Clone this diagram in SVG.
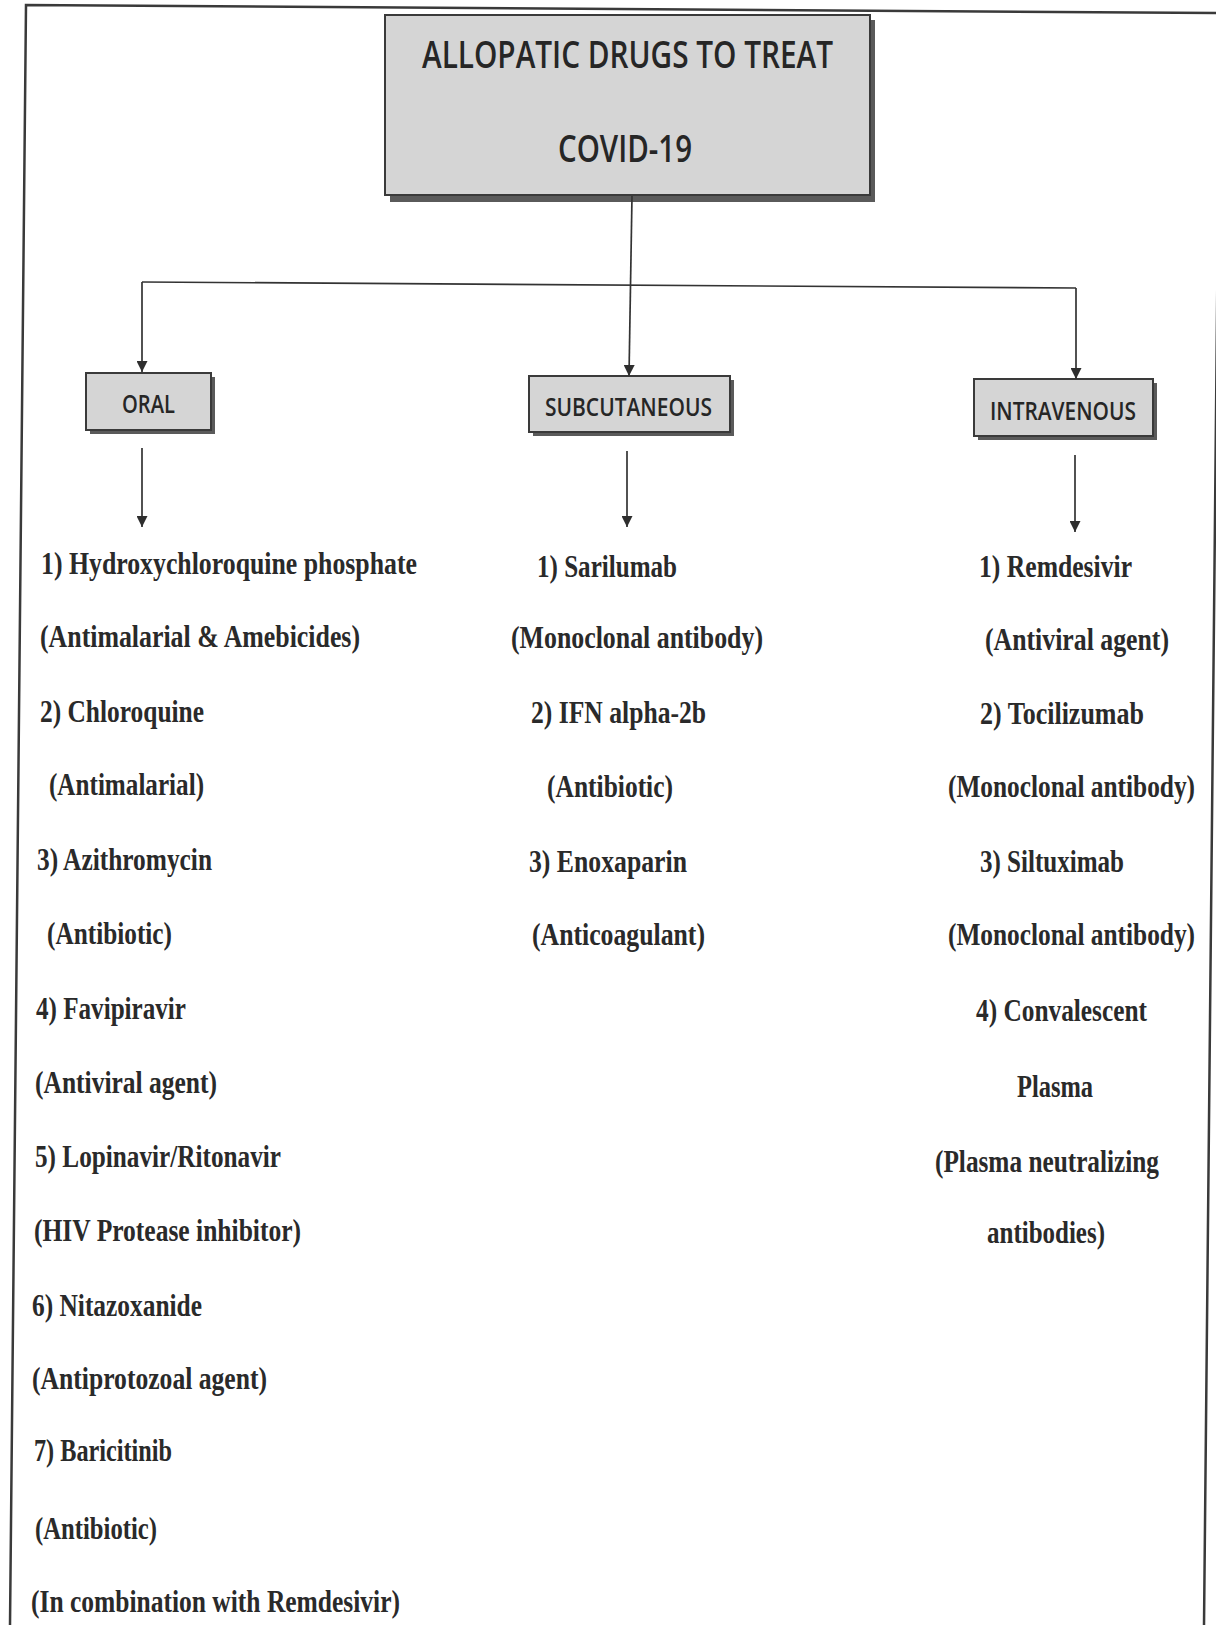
<svg xmlns="http://www.w3.org/2000/svg" width="1216" height="1625" viewBox="0 0 1216 1625">
<defs>
<marker id="ah" viewBox="0 0 10 10" refX="10" refY="5" markerWidth="15" markerHeight="11" markerUnits="userSpaceOnUse" orient="auto">
<path d="M0,0 L10,5 L0,10 z" fill="#2e2e2e"/>
</marker>
<style>
.box{fill:#d5d5d5;stroke:#3a3a3a;stroke-width:2}
.shadow{fill:#5a5a5a}
.hd{font-family:"Open Sans","Liberation Sans",sans-serif;font-weight:600;fill:#262626;text-anchor:start}
.t{font-family:"Liberation Serif","Times New Roman",serif;font-weight:bold;font-size:32px;fill:#2a2a2a}
.ln{stroke:#333;stroke-width:1.7;fill:none}
.frame{stroke:#3a3a3a;stroke-width:2.5;fill:none}
</style>
</defs>
<rect width="1216" height="1625" fill="#ffffff"/>
<path class="frame" d="M1220,13 L26,5 L10,1625 M1220,13 L1204,1625"/>

<g id="header">
<rect class="shadow" x="390" y="20" width="485" height="182"/>
<rect class="box" x="385" y="15" width="485" height="180"/>
<text class="hd" x="422" y="68" font-size="37" textLength="411" lengthAdjust="spacingAndGlyphs">ALLOPATIC DRUGS TO TREAT</text>
<text class="hd" x="558" y="162" font-size="37" textLength="134" lengthAdjust="spacingAndGlyphs">COVID-19</text>
</g>

<g id="oral">
<rect class="shadow" x="90" y="377" width="125" height="57"/>
<rect class="box" x="86" y="373" width="125" height="57"/>
<text class="hd" x="122" y="413" font-size="25" textLength="53" lengthAdjust="spacingAndGlyphs">ORAL</text>
</g>

<g id="subcutaneous">
<rect class="shadow" x="533" y="380" width="201" height="56"/>
<rect class="box" x="529" y="376" width="201" height="56"/>
<text class="hd" x="545" y="416" font-size="25" textLength="167" lengthAdjust="spacingAndGlyphs">SUBCUTANEOUS</text>
</g>

<g id="intravenous">
<rect class="shadow" x="978" y="383" width="179" height="57"/>
<rect class="box" x="974" y="379" width="179" height="57"/>
<text class="hd" x="990" y="420" font-size="25" textLength="146" lengthAdjust="spacingAndGlyphs">INTRAVENOUS</text>
</g>

<g id="connectors">
<path class="ln" d="M632,196 L629,376" marker-end="url(#ah)"/>
<path class="ln" d="M142,282 L1076,288"/>
<path class="ln" d="M142,282 L142,372" marker-end="url(#ah)"/>
<path class="ln" d="M1076,288 L1076,379" marker-end="url(#ah)"/>
<path class="ln" d="M142,448 L142,527" marker-end="url(#ah)"/>
<path class="ln" d="M627,451 L627,527" marker-end="url(#ah)"/>
<path class="ln" d="M1075,455 L1075,532" marker-end="url(#ah)"/>
</g>

<g id="oral-list">
<text class="t" x="41" y="574" textLength="376" lengthAdjust="spacingAndGlyphs">1) Hydroxychloroquine phosphate</text>
<text class="t" x="40" y="647" textLength="320" lengthAdjust="spacingAndGlyphs">(Antimalarial &amp; Amebicides)</text>
<text class="t" x="40" y="722" textLength="164" lengthAdjust="spacingAndGlyphs">2) Chloroquine</text>
<text class="t" x="49" y="795" textLength="155" lengthAdjust="spacingAndGlyphs">(Antimalarial)</text>
<text class="t" x="37" y="870" textLength="175" lengthAdjust="spacingAndGlyphs">3) Azithromycin</text>
<text class="t" x="47" y="944" textLength="125" lengthAdjust="spacingAndGlyphs">(Antibiotic)</text>
<text class="t" x="36" y="1019" textLength="150" lengthAdjust="spacingAndGlyphs">4) Favipiravir</text>
<text class="t" x="35" y="1093" textLength="182" lengthAdjust="spacingAndGlyphs">(Antiviral agent)</text>
<text class="t" x="35" y="1167" textLength="246" lengthAdjust="spacingAndGlyphs">5) Lopinavir/Ritonavir</text>
<text class="t" x="34" y="1241" textLength="267" lengthAdjust="spacingAndGlyphs">(HIV Protease inhibitor)</text>
<text class="t" x="32" y="1316" textLength="170" lengthAdjust="spacingAndGlyphs">6) Nitazoxanide</text>
<text class="t" x="32" y="1389" textLength="235" lengthAdjust="spacingAndGlyphs">(Antiprotozoal agent)</text>
<text class="t" x="34" y="1461" textLength="138" lengthAdjust="spacingAndGlyphs">7) Baricitinib</text>
<text class="t" x="35" y="1539" textLength="122" lengthAdjust="spacingAndGlyphs">(Antibiotic)</text>
<text class="t" x="31" y="1612" textLength="369" lengthAdjust="spacingAndGlyphs">(In combination with Remdesivir)</text>
</g>

<g id="subcutaneous-list">
<text class="t" x="537" y="577" textLength="140" lengthAdjust="spacingAndGlyphs">1) Sarilumab</text>
<text class="t" x="511" y="648" textLength="252" lengthAdjust="spacingAndGlyphs">(Monoclonal antibody)</text>
<text class="t" x="531" y="723" textLength="175" lengthAdjust="spacingAndGlyphs">2) IFN alpha-2b</text>
<text class="t" x="547" y="797" textLength="126" lengthAdjust="spacingAndGlyphs">(Antibiotic)</text>
<text class="t" x="529" y="872" textLength="158" lengthAdjust="spacingAndGlyphs">3) Enoxaparin</text>
<text class="t" x="532" y="945" textLength="173" lengthAdjust="spacingAndGlyphs">(Anticoagulant)</text>
</g>

<g id="intravenous-list">
<text class="t" x="979" y="577" textLength="153" lengthAdjust="spacingAndGlyphs">1) Remdesivir</text>
<text class="t" x="985" y="650" textLength="184" lengthAdjust="spacingAndGlyphs">(Antiviral agent)</text>
<text class="t" x="980" y="724" textLength="164" lengthAdjust="spacingAndGlyphs">2) Tocilizumab</text>
<text class="t" transform="translate(948,797) scale(1,1.23)" style="font-size:26px" x="0" y="0" textLength="247" lengthAdjust="spacingAndGlyphs">(Monoclonal antibody)</text>
<text class="t" x="980" y="872" textLength="144" lengthAdjust="spacingAndGlyphs">3) Siltuximab</text>
<text class="t" transform="translate(948,945) scale(1,1.23)" style="font-size:26px" x="0" y="0" textLength="247" lengthAdjust="spacingAndGlyphs">(Monoclonal antibody)</text>
<text class="t" x="976" y="1021" textLength="171" lengthAdjust="spacingAndGlyphs">4) Convalescent</text>
<text class="t" x="1017" y="1097" textLength="76" lengthAdjust="spacingAndGlyphs">Plasma</text>
<text class="t" x="935" y="1172" textLength="224" lengthAdjust="spacingAndGlyphs">(Plasma neutralizing</text>
<text class="t" x="987" y="1243" textLength="118" lengthAdjust="spacingAndGlyphs">antibodies)</text>
</g>
</svg>
